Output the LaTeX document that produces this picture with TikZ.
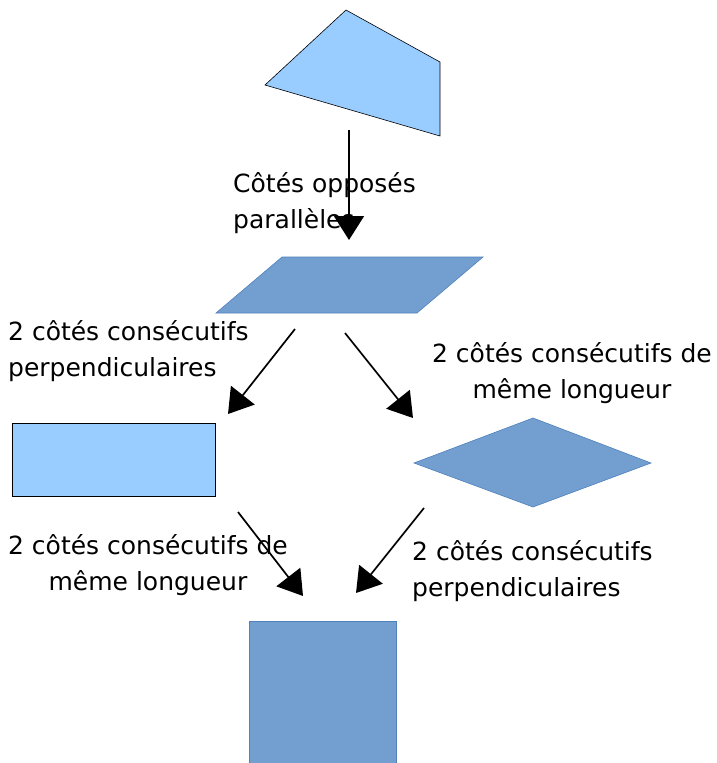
\documentclass[tikz,border=0pt]{standalone}
\usepackage{fontspec}
\setmainfont{DejaVu Sans}
\usetikzlibrary{arrows.meta}
\definecolor{paleblue}{HTML}{99CCFF}
\definecolor{midblue}{HTML}{729FCF}
\definecolor{edgeblue}{HTML}{4F81BD}

\begin{document}
\begin{tikzpicture}[x=1pt,y=-1pt,
  light/.style={fill=paleblue, draw=black, line width=0.6pt},
  dark/.style={fill=midblue, draw=edgeblue, line width=0.6pt},
  implies/.style={line width=1.7pt, -{Triangle[length=24pt,width=30pt]}},
  lbl/.style={font=\fontsize{25}{36}\selectfont, inner sep=0pt}]
\useasboundingbox[fill=white] (0,0) rectangle (717,763);
\draw[light] (346,10) -- (440,62) -- (440,136) -- (265,85) -- cycle;
\draw[dark] (282,257) -- (483,257) -- (417,313) -- (216,313) -- cycle;
\draw[light] (12,423) rectangle (215,496);
\draw[dark] (414,463) -- (533,418) -- (651,463) -- (533,507) -- cycle;
\draw[dark] (249,621) rectangle (396,763);

\node[lbl, anchor=north west, align=left] (opp) at (233,172) {Côtés opposés\\parallèles};
\node[lbl, anchor=north west, align=left] (perpa) at (8,320) {2 côtés consécutifs\\perpendiculaires};
\node[lbl, anchor=north, align=center] (longa) at (572,342) {2 côtés consécutifs de\\même longueur};
\node[lbl, anchor=north, align=center] (longb) at (148,534) {2 côtés consécutifs de\\même longueur};
\node[lbl, anchor=north west, align=left] (perpb) at (412,540) {2 côtés consécutifs\\perpendiculaires};

\coordinate (qs) at (349,130);
\coordinate (qe) at (349,240);
\coordinate (pl) at (295,329);
\coordinate (rt) at (228,414);
\coordinate (pr) at (345,333);
\coordinate (lo) at (413,418);
\coordinate (rb) at (238,512);
\coordinate (sl) at (303,596);
\coordinate (lb) at (424,508);
\coordinate (sr) at (356,593);
\draw[implies] (qs) -- (qe);
\draw[implies] (pl) -- (rt);
\draw[implies] (pr) -- (lo);
\draw[implies] (rb) -- (sl);
\draw[implies] (lb) -- (sr);
\end{tikzpicture}
\end{document}
